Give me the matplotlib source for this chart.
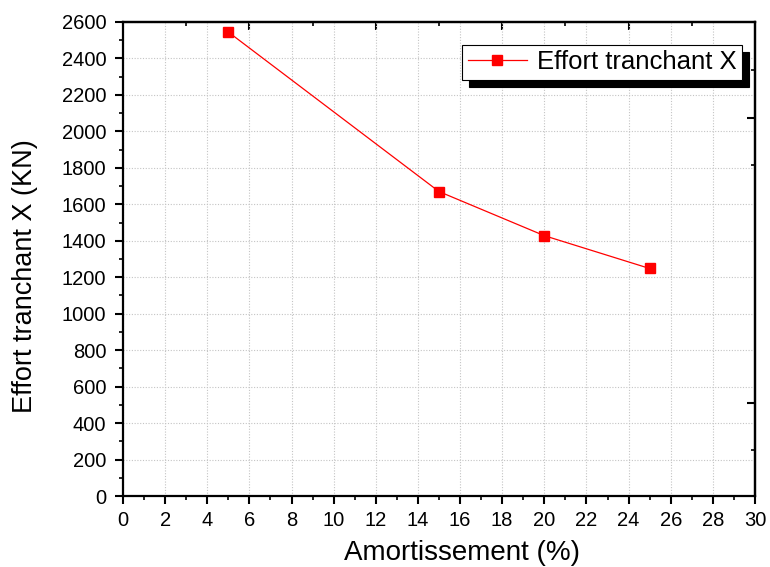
import matplotlib
matplotlib.use("Agg")
import matplotlib.pyplot as plt
from matplotlib.ticker import MultipleLocator, FixedLocator, NullFormatter

plt.rcParams['font.family'] = ['Liberation Sans', 'DejaVu Sans']

amortissement = [5, 15, 20, 25]
effort_x = [2545, 1670, 1428, 1248]

fig = plt.figure(figsize=(7.7, 5.67), dpi=100)
ax = fig.add_axes([0.1597, 0.1252, 0.8208, 0.836])

ax.plot(amortissement, effort_x, color='red', lw=0.9, marker='s', markersize=7,
        markerfacecolor='red', markeredgecolor='red', label='Effort tranchant X')

ax.set_xlim(0, 30)
ax.set_ylim(0, 2600)
ax.xaxis.set_major_locator(MultipleLocator(2))
ax.xaxis.set_minor_locator(MultipleLocator(1))
ax.yaxis.set_major_locator(MultipleLocator(200))
ax.yaxis.set_minor_locator(MultipleLocator(100))

ax.grid(True, which='major', color='#c4c4c4', linestyle=(0, (1, 1.5)), lw=0.8)
ax.tick_params(axis='both', which='major', direction='out', length=6, width=1.5,
               labelsize=14.5, top=False, right=False)
ax.tick_params(axis='y', which='major', pad=6)
ax.tick_params(axis='x', which='major', pad=5)
ax.tick_params(axis='both', which='minor', direction='out', length=3, width=1.2,
               top=False, right=False)

for s in ax.spines.values():
    s.set_linewidth(1.6)

# Inward ticks on the top and right frames
ax_top = ax.secondary_xaxis('top')
ax_top.xaxis.set_major_locator(FixedLocator([6, 12, 18, 24]))
ax_top.xaxis.set_minor_locator(FixedLocator([3, 9, 15, 21, 27]))
ax_top.xaxis.set_major_formatter(NullFormatter())
ax_top.tick_params(which='major', direction='in', length=6, width=1.5)
ax_top.tick_params(which='minor', direction='in', length=3, width=1.2)
ax_top.spines['top'].set_linewidth(1.6)

ax_right = ax.secondary_yaxis('right')
ax_right.yaxis.set_major_locator(FixedLocator([510, 2073]))
ax_right.yaxis.set_minor_locator(FixedLocator([252, 1816, 2337]))
ax_right.yaxis.set_major_formatter(NullFormatter())
ax_right.tick_params(which='major', direction='in', length=6, width=1.5)
ax_right.tick_params(which='minor', direction='in', length=3, width=1.2)
ax_right.spines['right'].set_linewidth(1.6)

ax.set_xlabel('Amortissement (%)', fontsize=20)
ax.set_ylabel('Effort tranchant X (KN)', fontsize=19.5)
ax.xaxis.set_label_coords(0.536, -0.093)
ax.yaxis.set_label_coords(-0.135, 0.464)

leg = ax.legend(loc='upper right', bbox_to_anchor=(0.98, 0.952), fontsize=18.5,
                frameon=True, fancybox=False, edgecolor='black', framealpha=1,
                shadow={'color': 'black', 'alpha': 1, 'ox': 5, 'oy': -5},
                borderpad=0.22, handlelength=2.3, handletextpad=0.4, borderaxespad=0)
leg.get_frame().set_linewidth(0.8)

fig.savefig('out.png', dpi=100)
